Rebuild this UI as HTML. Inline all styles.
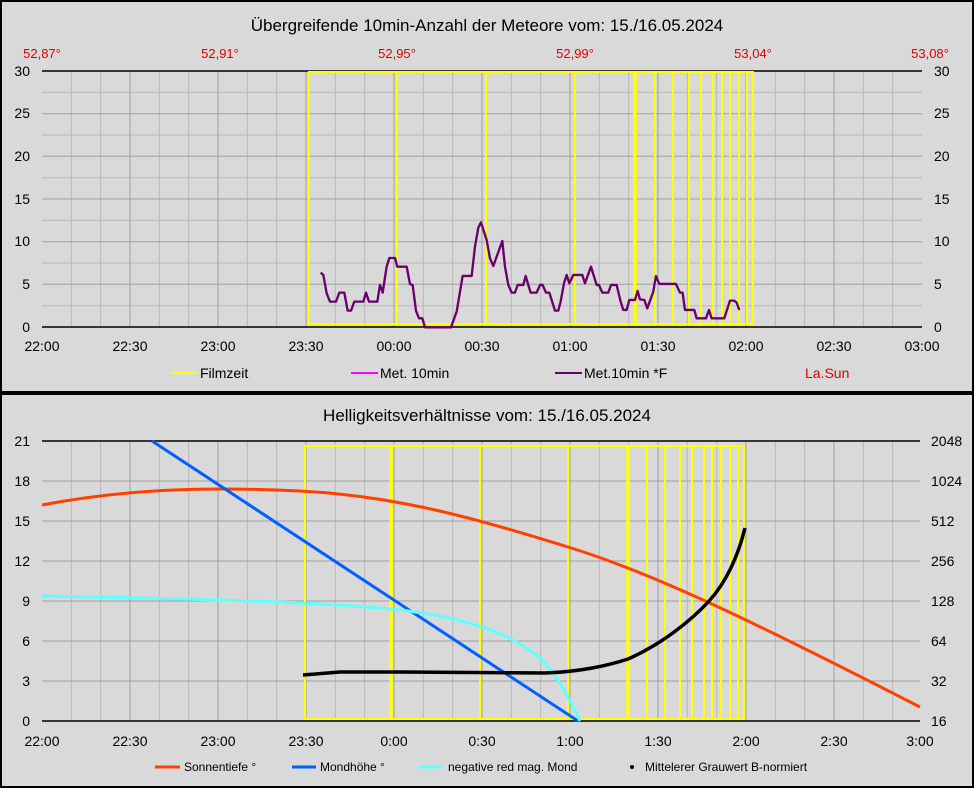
<!DOCTYPE html>
<html><head><meta charset="utf-8"><style>
html,body{margin:0;padding:0;background:#d9d9d9}
svg{display:block;font-family:"Liberation Sans",sans-serif}
</style></head><body>
<svg width="974" height="788" viewBox="0 0 974 788" xmlns="http://www.w3.org/2000/svg">
<rect x="0" y="0" width="974" height="788" fill="#d9d9d9"/>
<rect x="1" y="1" width="972" height="786" fill="none" stroke="#000" stroke-width="2"/>
<rect x="0" y="391" width="974" height="4" fill="#000"/>

<!-- TOP CHART -->
<text x="487" y="31" font-size="17" text-anchor="middle" fill="#000">Übergreifende 10min-Anzahl der Meteore vom: 15./16.05.2024</text>
<g font-size="13" fill="#e00000" text-anchor="middle">
<text x="42" y="58">52,87°</text><text x="220" y="58">52,91°</text><text x="397" y="58">52,95°</text>
<text x="575" y="58">52,99°</text><text x="753" y="58">53,04°</text><text x="930" y="58">53,08°</text>
</g>
<g stroke="#b8b8b8" stroke-width="1">
<path d="M71.3 71V327M100.7 71V327M159.3 71V327M188.7 71V327M247.3 71V327M276.7 71V327M335.3 71V327M364.7 71V327M423.3 71V327M452.7 71V327M511.3 71V327M540.7 71V327M599.3 71V327M628.7 71V327M687.3 71V327M716.7 71V327M775.3 71V327M804.7 71V327M863.3 71V327M892.7 71V327"/>
<path d="M42 305.7H922M42 263H922M42 220.3H922M42 177.7H922M42 135H922M42 92.3H922"/>
</g>
<g stroke="#a0a0a0" stroke-width="1">
<path d="M130 71V327M218 71V327M306 71V327M394 71V327M482 71V327M570 71V327M658 71V327M746 71V327M834 71V327"/>
<path d="M42 284.3H922M42 241.7H922M42 199H922M42 156.3H922M42 113.7H922"/>
</g>
<path d="M42 71H922M42 327H922" stroke="#000" stroke-width="1.5"/>
<g stroke="#ffff00" stroke-width="2" fill="none">
<rect x="309" y="72" width="444" height="252"/>
<path d="M397 72V324M486 72V324M575 72V324M655 72V324M673 72V324M689 72V324M701 72V324M713 72V324M722 72V324M730 72V324M739 72V324M747 72V324"/>
<path d="M635 72V324" stroke-width="3.5"/>
</g>
<polyline transform="translate(290,60) scale(0.3333)" fill="none" stroke="#6a006a" stroke-width="7" stroke-linejoin="round" points="92,638 100,645 110,700 120,725 138,725 148,698 163,698 173,752 183,752 193,725 220,725 228,698 237,725 262,725 270,675 278,698 290,620 298,594 315,594 322,620 350,620 360,672 368,675 378,752 387,775 397,775 405,802 483,802 500,755 518,648 545,648 555,560 565,503 573,487 590,540 600,595 610,618 637,543 645,620 655,675 665,698 675,698 683,675 700,675 707,648 722,698 740,698 750,675 758,675 768,698 778,698 795,752 805,752 812,725 822,670 830,645 838,670 850,645 877,645 885,670 903,620 920,675 927,675 937,698 955,698 963,675 980,675 992,725 1000,750 1010,750 1018,720 1035,720 1043,693 1050,718 1063,720 1072,745 1090,695 1098,648 1108,672 1158,672 1170,698 1178,698 1185,750 1213,750 1220,775 1248,775 1257,750 1265,775 1303,775 1320,722 1333,722 1340,728 1348,750"/>
<g font-size="14" fill="#000" text-anchor="end">
<text x="30" y="76">30</text><text x="30" y="118">25</text><text x="30" y="161">20</text><text x="30" y="204">15</text><text x="30" y="246">10</text><text x="30" y="289">5</text><text x="30" y="332">0</text>
</g>
<g font-size="14" fill="#000" text-anchor="start">
<text x="934" y="76">30</text><text x="934" y="118">25</text><text x="934" y="161">20</text><text x="934" y="204">15</text><text x="934" y="246">10</text><text x="934" y="289">5</text><text x="934" y="332">0</text>
</g>
<g font-size="14" fill="#000" text-anchor="middle">
<text x="42" y="351">22:00</text><text x="130" y="351">22:30</text><text x="218" y="351">23:00</text><text x="306" y="351">23:30</text><text x="394" y="351">00:00</text><text x="482" y="351">00:30</text><text x="570" y="351">01:00</text><text x="658" y="351">01:30</text><text x="746" y="351">02:00</text><text x="834" y="351">02:30</text><text x="922" y="351">03:00</text>
</g>
<g font-size="14">
<path d="M171 373H197" stroke="#ffff00" stroke-width="2"/><text x="200" y="378">Filmzeit</text>
<path d="M351 373H378" stroke="#ff00ff" stroke-width="2"/><text x="380" y="378">Met. 10min</text>
<path d="M555 373H582" stroke="#6a006a" stroke-width="2"/><text x="584" y="378">Met.10min *F</text>
<text x="805" y="378" fill="#e00000">La.Sun</text>
</g>

<!-- BOTTOM CHART -->
<text x="487" y="421" font-size="17" text-anchor="middle" fill="#000">Helligkeitsverhältnisse vom: 15./16.05.2024</text>
<g stroke="#b8b8b8" stroke-width="1">
<path d="M71.3 441V721M100.7 441V721M159.3 441V721M188.7 441V721M247.3 441V721M276.7 441V721M335.3 441V721M364.7 441V721M423.3 441V721M452.7 441V721M511.3 441V721M540.7 441V721M599.3 441V721M628.7 441V721M687.3 441V721M716.7 441V721M775.3 441V721M804.7 441V721M863.3 441V721M892.7 441V721"/>
</g>
<g stroke="#a0a0a0" stroke-width="1">
<path d="M130 441V721M218 441V721M306 441V721M394 441V721M482 441V721M570 441V721M658 441V721M746 441V721M834 441V721"/>
<path d="M42 681H920M42 641H920M42 601H920M42 561H920M42 521H920M42 481H920"/>
</g>
<path d="M42 441H920M42 721H920" stroke="#000" stroke-width="1.5"/>
<g stroke="#ffff00" stroke-width="2" fill="none">
<rect x="305" y="446" width="439" height="273"/>
<path d="M480 446V719M568 446V719M647 446V719M665 446V719M680 446V719M692 446V719M704 446V719M712 446V719M721 446V719M730 446V719M738 446V719"/>
<path d="M391 446V719M628 446V719" stroke-width="3.5"/>
</g>
<path d="M42 505 C120 490,200 486,300 491 S480 520,568 547 S760 625,920 707" fill="none" stroke="#ff4000" stroke-width="3"/>
<path d="M152 441L578 721" stroke="#0060ff" stroke-width="3"/>
<path d="M42 596 C200 599,300 601,391 609 C460 616,510 632,540 658 C558 676,570 700,580 721" fill="none" stroke="#60ffff" stroke-width="3"/>
<path d="M303 675 L340 672 L400 672 L545 673 C580 672,610 665,628 659 C660 645,690 622,710 600 C725 583,737 560,745 528" fill="none" stroke="#000" stroke-width="3.5"/>
<g font-size="14" fill="#000" text-anchor="end">
<text x="30" y="446">21</text><text x="30" y="486">18</text><text x="30" y="526">15</text><text x="30" y="566">12</text><text x="30" y="606">9</text><text x="30" y="646">6</text><text x="30" y="686">3</text><text x="30" y="726">0</text>
</g>
<g font-size="14" fill="#000" text-anchor="start">
<text x="931" y="446">2048</text><text x="931" y="486">1024</text><text x="931" y="526">512</text><text x="931" y="566">256</text><text x="931" y="606">128</text><text x="931" y="646">64</text><text x="931" y="686">32</text><text x="931" y="726">16</text>
</g>
<g font-size="14" fill="#000" text-anchor="middle">
<text x="42" y="746">22:00</text><text x="130" y="746">22:30</text><text x="218" y="746">23:00</text><text x="306" y="746">23:30</text><text x="394" y="746">0:00</text><text x="482" y="746">0:30</text><text x="570" y="746">1:00</text><text x="658" y="746">1:30</text><text x="746" y="746">2:00</text><text x="834" y="746">2:30</text><text x="920" y="746">3:00</text>
</g>
<g font-size="12">
<path d="M155 767H180" stroke="#ff4000" stroke-width="3"/><text x="184" y="771">Sonnentiefe °</text>
<path d="M292 767H316" stroke="#0060ff" stroke-width="3"/><text x="320" y="771">Mondhöhe °</text>
<path d="M418 767H442" stroke="#60ffff" stroke-width="3"/><text x="448" y="771">negative red mag. Mond</text>
<circle cx="632" cy="767" r="2" fill="#000"/><text x="645" y="771">Mittelerer Grauwert B-normiert</text>
</g>
</svg>
</body></html>
